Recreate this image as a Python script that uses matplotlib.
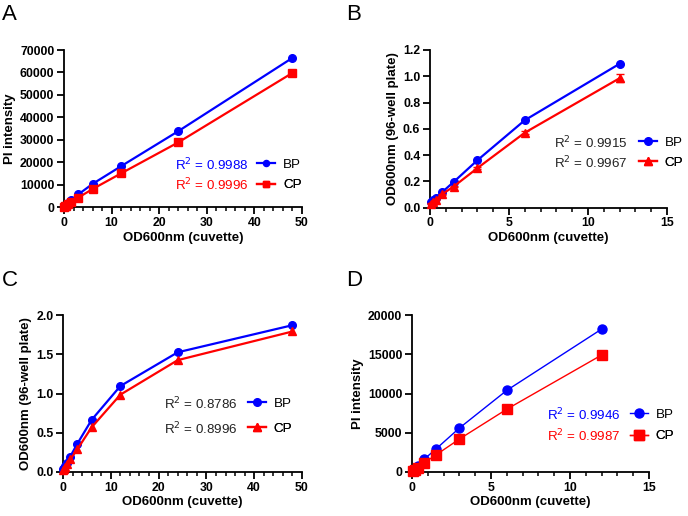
import matplotlib
matplotlib.use("Agg")
import matplotlib.pyplot as plt
from matplotlib.lines import Line2D
from matplotlib.ticker import MultipleLocator, FormatStrFormatter
import numpy as np

plt.rcParams['font.family'] = ['Liberation Sans', 'DejaVu Sans']

# ---------------- data ----------------
x_48 = [48, 24, 12, 6, 3, 1.5, 0.75, 0.375, 0.1875, 0.09375]
x_12 = [12, 6, 3, 1.5, 0.75, 0.375, 0.1875, 0.09375]

a_bp = [66500, 33800, 18200, 10300, 5600, 2900, 1600, 800, 400, 250]
a_cp = [59800, 28800, 15000, 8000, 4200, 2150, 1150, 550, 300, 150]

b_bp = [1.095, 0.665, 0.36, 0.195, 0.115, 0.075, 0.055, 0.04]
b_cp = [0.985, 0.57, 0.30, 0.16, 0.10, 0.06, 0.04, 0.03]
b_cp_err = [0.03, 0.01, 0.005, 0.005, 0.003, 0.003, 0.003, 0.003]

c_bp = [1.87, 1.525, 1.095, 0.665, 0.36, 0.195, 0.115, 0.075, 0.055, 0.04]
c_cp = [1.79, 1.425, 0.985, 0.57, 0.29, 0.16, 0.10, 0.06, 0.04, 0.03]

d_bp = [18200, 10400, 5600, 2900, 1600, 800, 400, 250]
d_cp = [14900, 8000, 4200, 2150, 1150, 550, 300, 150]

r2_a = ["0.9988", "0.9996"]
r2_b = ["0.9915", "0.9967"]
r2_c = ["0.8786", "0.8996"]
r2_d = ["0.9946", "0.9987"]
series_names = ["BP", "CP"]

BLUE = "#0000FF"
RED = "#FF0000"

W, H = 688, 516
fig = plt.figure(figsize=(W / 100, H / 100), dpi=100)


def px_axes(l, r, b, t):
    return fig.add_axes([l / W, 1 - b / H, (r - l) / W, (b - t) / H])


def style(ax, xmax, xmaj, xmin, ymax, ymaj, yfmt, ylabel):
    ax.set_xlim(0, xmax)
    ax.set_ylim(0, ymax)
    ax.xaxis.set_major_locator(MultipleLocator(xmaj))
    ax.xaxis.set_minor_locator(MultipleLocator(xmin))
    ax.yaxis.set_major_locator(MultipleLocator(ymaj))
    ax.yaxis.set_major_formatter(FormatStrFormatter(yfmt))
    for s in ("top", "right"):
        ax.spines[s].set_visible(False)
    for s in ("left", "bottom"):
        ax.spines[s].set_linewidth(1.3)
    ax.tick_params(which="major", length=5, width=1.3, labelsize=8.8, pad=2)
    ax.tick_params(which="minor", length=3, width=1.1)
    for lab in ax.get_xticklabels() + ax.get_yticklabels():
        lab.set_fontweight("bold")
    ax.set_xlabel("OD600nm (cuvette)", fontsize=9.5, fontweight="bold", labelpad=2)
    ax.set_ylabel(ylabel, fontsize=9.5, fontweight="bold", labelpad=3)


def legend_rows(ax, handles, r2s, colors, xh, xr, ys, mscale=1.0):
    for h, name, r2, col, y in zip(handles, series_names, r2s, colors, ys):
        leg = ax.legend([h], [name], loc="center left", bbox_to_anchor=(xh, y),
                        frameon=False, fontsize=9.6, handlelength=1.35,
                        handletextpad=0.6, borderpad=0, borderaxespad=0,
                        markerscale=mscale)
        ax.add_artist(leg)
        ax.text(xr, y, "R$^{2}$ = " + r2, transform=ax.transAxes, ha="right",
                va="center", fontsize=9.6, color=col)


lw = 1.6
# ---------------- A ----------------
axA = px_axes(64, 302, 207, 50)
hA1, = axA.plot(x_48, a_bp, color=BLUE, marker="o", ms=5.5, lw=lw, clip_on=False, zorder=3)
hA2, = axA.plot(x_48, a_cp, color=RED, marker="s", ms=5.5, lw=lw, clip_on=False, zorder=3)
style(axA, 50, 10, 2, 70000, 10000, "%d", "PI intensity")
legend_rows(axA, [hA1, hA2], r2_a, [BLUE, RED], 0.812, 0.775, [0.268, 0.140], mscale=0.8)

# ---------------- B ----------------
axB = px_axes(430, 667, 207.5, 50)
hB1, = axB.plot(x_12, b_bp, color=BLUE, marker="o", ms=5.5, lw=lw, clip_on=False, zorder=3)
ebB = axB.errorbar(x_12, b_cp, yerr=b_cp_err, color=RED, marker="^", ms=5.5, lw=lw,
                   capsize=3, elinewidth=1.2, clip_on=False, zorder=3)
style(axB, 15, 5, 1, 1.2, 0.2, "%.1f", "OD600nm (96-well plate)")
hB2 = Line2D([], [], color=RED, marker="^", ms=5.5, lw=lw)
legend_rows(axB, [hB1, hB2], r2_b, ["#222222", "#222222"], 0.880, 0.833, [0.41, 0.283])

# ---------------- C ----------------
axC = px_axes(63, 302, 472, 315)
hC1, = axC.plot(x_48, c_bp, color=BLUE, marker="o", ms=5.5, lw=lw, clip_on=False, zorder=3)
hC2, = axC.plot(x_48, c_cp, color=RED, marker="^", ms=5.5, lw=lw, clip_on=False, zorder=3)
style(axC, 50, 10, 2, 2.0, 0.5, "%.1f", "OD600nm (96-well plate)")
legend_rows(axC, [hC1, hC2], r2_c, ["#222222", "#222222"], 0.772, 0.730, [0.435, 0.274])

# ---------------- D ----------------
axD = px_axes(412, 649, 472, 315)
hD1, = axD.plot(x_12, d_bp, color=BLUE, marker="o", ms=6.5, lw=1.0, clip_on=False, zorder=3)
hD2, = axD.plot(x_12, d_cp, color=RED, marker="s", ms=6.5, lw=1.0, clip_on=False, zorder=3)
style(axD, 15, 5, 1, 20000, 5000, "%d", "PI intensity")
legend_rows(axD, [hD1, hD2], r2_d, [BLUE, RED], 0.918, 0.880, [0.365, 0.229])

# panel letters
for lbl, xp, yp in [("A", 2, 4), ("B", 346, 4), ("C", 2, 270), ("D", 346, 270)]:
    fig.text(xp / W, 1 - yp / H, lbl, fontsize=16, va="top", ha="left")

fig.savefig("out.png", dpi=100)
